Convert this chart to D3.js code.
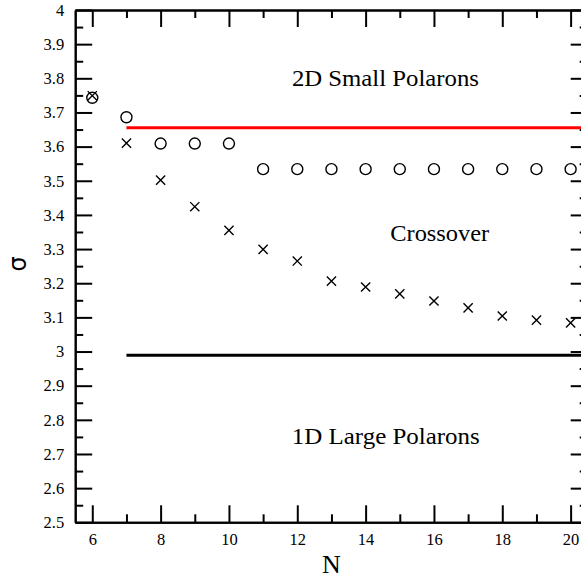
<!DOCTYPE html>
<html><head><meta charset="utf-8">
<script src="https://cdn.jsdelivr.net/npm/d3@7"></script>
<style>
html,body{margin:0;padding:0;background:#fff;overflow:hidden}
svg{display:block}
</style></head>
<body>
<script>
// ---- data ----
const circleN = [6,7,8,9,10,11,12,13,14,15,16,17,18,19,20];
const circleSigma = [3.743,3.686,3.609,3.609,3.609,3.534,3.534,3.534,3.534,3.534,3.534,3.534,3.534,3.534,3.534];
const crossN = [6,7,8,9,10,11,12,13,14,15,16,17,18,19,20];
const crossSigma = [3.749,3.61,3.502,3.424,3.355,3.299,3.265,3.206,3.189,3.169,3.148,3.128,3.104,3.092,3.084];
const redLine = {from:7, to:20.5, sigma:3.655};
const blackLine = {from:7, to:20.5, sigma:2.989};
const xMajorTicks = [6,8,10,12,14,16,18,20];
const xMinorTicks = [7,9,11,13,15,17,19];
const yMajorTicks = [2.5,2.6,2.7,2.8,2.9,3,3.1,3.2,3.3,3.4,3.5,3.6,3.7,3.8,3.9,4];
const yMinorTicks = [2.55,2.65,2.75,2.85,2.95,3.05,3.15,3.25,3.35,3.45,3.55,3.65,3.75,3.85,3.95];
const annotations = [
  {text:"2D Small Polarons", n:14.58, s:3.778, w:187},
  {text:"Crossover", n:16.17, s:3.324, w:99},
  {text:"1D Large Polarons", n:14.59, s:2.729, w:188}
];

// ---- layout ----
const W = 581, H = 583;
const x = d3.scaleLinear().domain([5.5, 20.5]).range([75.2, 587.7]);
const y = d3.scaleLinear().domain([2.5, 4]).range([522.3, 10]);
const serif = "'Liberation Serif', 'Times New Roman', serif";

const svg = d3.select("body").append("svg").attr("width", W).attr("height", H);

function styleAxis(g, fontSize){
  g.select(".domain").attr("stroke","#000").attr("stroke-width",2);
  g.selectAll(".tick line").attr("stroke","#000").attr("stroke-width",2);
  g.selectAll("text").attr("font-family", serif).attr("font-size", fontSize).attr("fill","#000");
}

// left axis
const gl = svg.append("g").attr("transform",`translate(${x(5.5)},0)`)
  .call(d3.axisLeft(y).tickValues(yMajorTicks).tickSize(-17).tickSizeOuter(0).tickPadding(11)
        .tickFormat(d => String(+d.toFixed(2))));
styleAxis(gl, 16.5);
const glm = svg.append("g").attr("transform",`translate(${x(5.5)},0)`)
  .call(d3.axisLeft(y).tickValues(yMinorTicks).tickSize(-8).tickSizeOuter(0).tickFormat(""));
styleAxis(glm, 16);

// right axis
const gr = svg.append("g").attr("transform",`translate(${x(20.5)},0)`)
  .call(d3.axisRight(y).tickValues(yMajorTicks).tickSize(-17).tickSizeOuter(0).tickFormat(""));
styleAxis(gr, 16);
const grm = svg.append("g").attr("transform",`translate(${x(20.5)},0)`)
  .call(d3.axisRight(y).tickValues(yMinorTicks).tickSize(-8).tickSizeOuter(0).tickFormat(""));
styleAxis(grm, 16);

// bottom axis
const gb = svg.append("g").attr("transform",`translate(0,${y(2.5)})`)
  .call(d3.axisBottom(x).tickValues(xMajorTicks).tickSize(-17).tickSizeOuter(0).tickPadding(11));
styleAxis(gb, 16.5);
const gbm = svg.append("g").attr("transform",`translate(0,${y(2.5)})`)
  .call(d3.axisBottom(x).tickValues(xMinorTicks).tickSize(-8).tickSizeOuter(0).tickFormat(""));
styleAxis(gbm, 16);

// top axis
const gt = svg.append("g").attr("transform",`translate(0,${y(4)})`)
  .call(d3.axisTop(x).tickValues(xMajorTicks).tickSize(-17).tickSizeOuter(0).tickFormat(""));
styleAxis(gt, 16);
const gtm = svg.append("g").attr("transform",`translate(0,${y(4)})`)
  .call(d3.axisTop(x).tickValues(xMinorTicks).tickSize(-8).tickSizeOuter(0).tickFormat(""));
styleAxis(gtm, 16);

// horizontal lines
svg.append("line").attr("x1",x(redLine.from)).attr("x2",x(redLine.to))
  .attr("y1",y(redLine.sigma)).attr("y2",y(redLine.sigma))
  .attr("stroke","#ff0000").attr("stroke-width",3);
svg.append("line").attr("x1",x(blackLine.from)).attr("x2",x(blackLine.to))
  .attr("y1",y(blackLine.sigma)).attr("y2",y(blackLine.sigma))
  .attr("stroke","#000").attr("stroke-width",3);

// circles
svg.append("g").selectAll("circle").data(circleN.map((n,i)=>({n, s:circleSigma[i]})))
  .join("circle").attr("cx",d=>x(d.n)).attr("cy",d=>y(d.s)).attr("r",5.5)
  .attr("fill","none").attr("stroke","#000").attr("stroke-width",1.4);

// crosses
const cr = 4.6;
svg.append("g").selectAll("path").data(crossN.map((n,i)=>({n, s:crossSigma[i]})))
  .join("path")
  .attr("d", d => {
    const cx = x(d.n), cy = y(d.s);
    return `M${cx-cr},${cy-cr}L${cx+cr},${cy+cr}M${cx-cr},${cy+cr}L${cx+cr},${cy-cr}`;
  })
  .attr("fill","none").attr("stroke","#000").attr("stroke-width",1.4);

// annotations
svg.append("g").selectAll("text").data(annotations).join("text")
  .attr("x", d=>x(d.n)).attr("y", d=>y(d.s)).attr("text-anchor","middle")
  .attr("font-family", serif).attr("font-size", 23).attr("fill","#000")
  .attr("textLength", d=>d.w).attr("lengthAdjust","spacingAndGlyphs")
  .text(d=>d.text);

// axis titles
svg.append("text").attr("x", x(13)).attr("y", 573).attr("text-anchor","middle")
  .attr("font-family", serif).attr("font-size", 26).attr("fill","#000").text("N");
svg.append("text").attr("transform","translate(26,264) rotate(-90)").attr("text-anchor","middle")
  .attr("font-family", "'DejaVu Sans', sans-serif").attr("font-size", 24).attr("fill","#000").text("σ");
</script>
</body></html>
